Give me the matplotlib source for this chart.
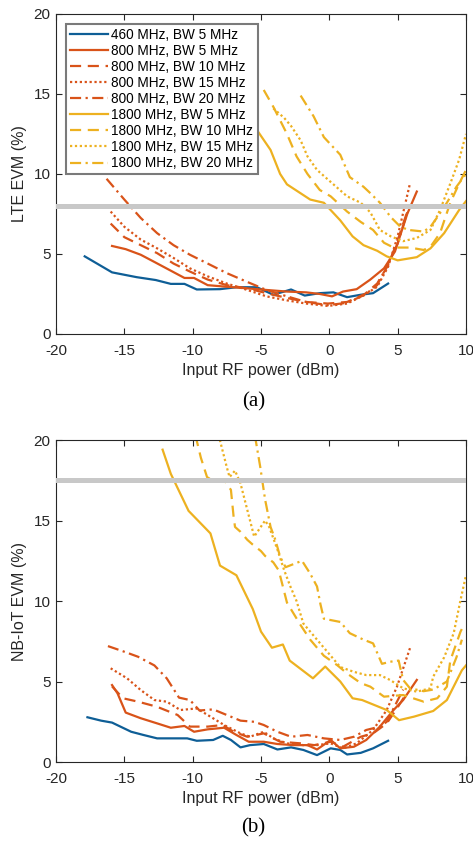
import numpy as np
import matplotlib.pyplot as plt

plt.rcParams['font.family'] = ['Liberation Sans', 'DejaVu Sans']
plt.rcParams['axes.unicode_minus'] = False

# ---- LTE EVM (a) ----
lte_460_bw5_x = [-17.9, -15.9, -14.1, -12.7, -11.6, -10.6, -9.7, -8.0, -6.8, -5.3, -4.1, -2.8, -1.8, -0.7, 0.3, 1.3, 2.3, 3.2, 4.3]
lte_460_bw5_y = [4.85, 3.85, 3.55, 3.37, 3.13, 3.13, 2.78, 2.8, 2.92, 2.92, 2.45, 2.78, 2.4, 2.55, 2.6, 2.3, 2.45, 2.55, 3.15]

lte_800_bw5_x = [-15.9, -14.9, -13.8, -12.8, -11.7, -10.6, -9.9, -8.9, -7.5, -6.0, -4.6, -3.1, -1.7, -0.7, 0.2, 1.0, 2.0, 3.0, 4.0, 4.8, 5.7, 6.4]
lte_800_bw5_y = [5.5, 5.3, 4.95, 4.5, 4.0, 3.5, 3.5, 3.05, 2.95, 2.85, 2.75, 2.65, 2.6, 2.5, 2.35, 2.65, 2.8, 3.4, 4.1, 5.15, 7.5, 8.9]

lte_800_bw10_x = [-16.0, -15.0, -13.8, -12.6, -11.4, -10.2, -8.9, -7.5, -6.0, -4.6, -3.1, -1.7, -0.1, 1.3, 2.6, 3.5, 4.3, 5.0, 5.8]
lte_800_bw10_y = [6.9, 6.05, 5.55, 5.05, 4.4, 3.9, 3.4, 3.05, 2.85, 2.55, 2.25, 2.0, 1.9, 2.0, 2.5, 3.15, 4.3, 5.85, 7.9]

lte_800_bw15_x = [-16.0, -15.0, -13.8, -12.6, -11.4, -10.2, -8.9, -7.5, -6.0, -4.6, -3.1, -1.7, -0.1, 1.3, 2.6, 3.5, 4.3, 5.0, 5.9]
lte_800_bw15_y = [7.65, 6.7, 5.9, 5.35, 4.75, 4.1, 3.6, 3.15, 2.75, 2.35, 2.1, 1.9, 1.75, 1.9, 2.45, 2.95, 4.2, 6.1, 9.4]

lte_800_bw20_x = [-16.3, -15.0, -13.8, -12.6, -11.4, -10.2, -8.9, -7.5, -6.0, -4.6, -3.1, -1.7, -0.1, 1.3, 2.6, 3.5, 4.3, 5.0, 5.7]
lte_800_bw20_y = [9.7, 8.4, 7.25, 6.3, 5.55, 4.95, 4.4, 3.8, 3.25, 2.75, 2.35, 2.0, 1.8, 1.95, 2.45, 3.05, 4.4, 5.65, 7.6]

lte_1800_bw5_x = [-6.3, -5.5, -4.3, -3.6, -3.1, -1.4, -0.4, 0.8, 1.7, 2.5, 3.5, 4.2, 5.0, 6.4, 7.4, 8.4, 9.5, 10.0]
lte_1800_bw5_y = [14.6, 13.0, 11.5, 10.0, 9.35, 8.4, 8.2, 7.1, 6.1, 5.55, 5.2, 4.85, 4.6, 4.8, 5.35, 6.3, 7.75, 8.3]

lte_1800_bw10_x = [-4.8, -4.1, -3.1, -2.4, -1.6, -0.7, 0.1, 1.3, 2.3, 3.2, 4.0, 4.7, 5.9, 6.9, 7.4, 8.1, 8.85, 9.5, 10.0]
lte_1800_bw10_y = [15.25, 14.2, 12.5, 11.1, 10.0, 9.0, 8.6, 7.65, 7.0, 6.5, 5.7, 5.4, 5.4, 5.25, 5.45, 6.3, 8.2, 9.4, 10.25]

lte_1800_bw15_x = [-4.1, -3.3, -2.8, -2.1, -1.6, -0.9, 0.1, 1.3, 2.3, 3.0, 3.7, 4.5, 5.4, 6.4, 7.4, 8.1, 8.85, 9.5, 10.0]
lte_1800_bw15_y = [14.1, 13.5, 13.0, 12.1, 11.1, 10.25, 9.5, 8.6, 8.2, 7.6, 6.5, 6.1, 5.8, 6.0, 6.5, 7.75, 9.4, 10.9, 12.5]

lte_1800_bw20_x = [-2.1, -1.15, -0.4, 0.8, 1.5, 2.5, 3.0, 3.7, 4.5, 5.2, 5.8, 6.9, 7.4, 7.9, 8.6, 9.3, 10.0]
lte_1800_bw20_y = [14.9, 13.6, 12.3, 11.2, 9.8, 9.2, 8.8, 8.2, 7.3, 6.7, 6.5, 6.4, 6.7, 7.3, 8.2, 9.2, 10.0]

lte_limit = 8.0

# ---- NB-IoT EVM (b) ----
nb_460_bw5_x = [-17.7, -16.7, -15.9, -14.5, -13.6, -12.6, -11.4, -10.4, -9.7, -8.5, -7.8, -7.2, -6.5, -5.8, -4.8, -3.8, -2.8, -1.9, -0.9, 0.1, 0.8, 1.3, 2.3, 3.2, 4.3]
nb_460_bw5_y = [2.78, 2.57, 2.45, 1.88, 1.68, 1.47, 1.47, 1.47, 1.32, 1.37, 1.63, 1.37, 0.91, 1.05, 1.12, 0.78, 0.91, 0.75, 0.43, 0.85, 0.75, 0.47, 0.57, 0.85, 1.32]

nb_800_bw5_x = [-15.9, -15.5, -14.9, -13.8, -12.6, -11.6, -10.6, -9.9, -8.9, -7.7, -6.8, -5.9, -4.8, -3.8, -2.6, -1.6, -0.9, 0.1, 0.8, 1.8, 2.7, 3.7, 4.7, 5.4, 6.4]
nb_800_bw5_y = [4.78, 4.27, 3.07, 2.72, 2.4, 2.13, 2.24, 1.88, 2.03, 2.13, 1.68, 1.26, 1.26, 1.12, 1.05, 1.05, 0.78, 1.37, 0.85, 0.95, 1.37, 2.2, 3.23, 3.85, 5.1]

nb_800_bw10_x = [-15.9, -15.1, -14.0, -12.6, -11.1, -10.2, -8.9, -7.8, -7.0, -6.0, -4.8, -3.6, -2.1, -1.1, 0.1, 1.0, 2.3, 3.2, 4.2, 5.0, 5.6]
nb_800_bw10_y = [4.7, 3.96, 3.75, 3.43, 2.92, 2.2, 2.2, 2.3, 1.88, 1.57, 1.78, 1.26, 1.16, 1.05, 1.26, 0.95, 1.57, 1.78, 2.4, 3.4, 4.2]

nb_800_bw15_x = [-16.0, -14.8, -13.8, -12.8, -11.9, -10.9, -9.7, -8.9, -7.7, -6.5, -5.8, -4.8, -4.1, -3.1, -1.9, -0.9, 0.1, 1.0, 2.0, 3.2, 4.2, 4.95, 5.9]
nb_800_bw15_y = [5.82, 5.2, 4.47, 3.85, 3.75, 3.23, 3.33, 2.92, 2.3, 1.78, 1.57, 1.88, 1.47, 1.16, 1.05, 1.05, 1.16, 0.85, 1.16, 1.99, 3.23, 4.68, 7.07]

nb_800_bw20_x = [-16.2, -15.0, -14.0, -12.8, -11.9, -11.0, -10.2, -9.5, -8.5, -7.5, -6.5, -5.5, -4.8, -3.8, -2.8, -1.6, -0.4, 0.8, 1.8, 2.7, 3.7, 4.2, 5.4]
nb_800_bw20_y = [7.2, 6.85, 6.54, 6.0, 5.2, 4.0, 3.85, 3.2, 3.27, 2.92, 2.57, 2.5, 2.3, 1.88, 1.57, 1.68, 1.47, 1.37, 1.57, 1.99, 2.2, 2.5, 4.5]

nb_1800_bw5_x = [-12.2, -11.6, -10.3, -8.7, -8.0, -6.8, -5.6, -5.0, -4.2, -3.4, -2.9, -1.2, -0.3, 0.8, 1.7, 2.4, 3.3, 4.2, 5.1, 6.2, 7.6, 8.6, 9.7, 10.0]
nb_1800_bw5_y = [19.4, 17.9, 15.6, 14.2, 12.2, 11.6, 9.5, 8.1, 7.1, 7.3, 6.3, 5.2, 5.93, 5.0, 3.96, 3.85, 3.54, 3.23, 2.6, 2.82, 3.17, 3.85, 5.7, 6.0]

nb_1800_bw10_x = [-9.8, -9.4, -8.95, -8.4, -7.6, -7.2, -7.0, -6.9, -6.5, -6.0, -5.6, -5.0, -4.7, -4.1, -3.7, -3.4, -3.1, -2.1, -1.4, -0.4, 0.6, 1.3, 2.3, 3.0, 4.0, 5.4, 6.9, 7.9, 8.6, 8.85, 9.6, 9.9]
nb_1800_bw10_y = [20.3, 18.9, 17.7, 17.4, 17.4, 16.9, 15.2, 14.6, 14.3, 13.8, 13.5, 13.1, 12.8, 12.4, 11.9, 10.9, 9.9, 8.5, 7.6, 6.6, 6.0, 5.5, 4.9, 4.68, 4.06, 4.16, 3.75, 3.96, 4.68, 6.3, 8.1, 8.6]

nb_1800_bw15_x = [-8.1, -7.5, -7.3, -6.9, -6.5, -6.0, -5.5, -4.7, -4.4, -3.8, -3.3, -2.85, -2.4, -1.9, -1.1, -0.1, 0.8, 1.8, 2.7, 3.7, 4.46, 5.4, 6.4, 7.4, 7.6, 8.4, 9.1, 9.6, 10.0]
nb_1800_bw15_y = [20.3, 18.3, 17.7, 18.1, 17.3, 15.65, 14.0, 15.0, 14.6, 13.2, 11.9, 10.9, 10.0, 8.6, 7.8, 6.8, 5.9, 5.6, 5.4, 5.4, 5.09, 4.58, 4.37, 4.58, 5.3, 6.5, 8.0, 10.06, 11.6]

nb_1800_bw20_x = [-5.45, -5.05, -4.7, -4.3, -3.95, -3.6, -3.2, -2.6, -2.0, -1.4, -0.9, -0.65, -0.4, 0.8, 1.5, 2.5, 3.2, 3.85, 4.46, 5.07, 5.4, 5.9, 6.9, 7.6, 8.6, 9.3, 9.7]
nb_1800_bw20_y = [20.3, 18.3, 16.3, 14.6, 13.8, 12.75, 12.1, 12.3, 12.5, 11.7, 10.9, 9.8, 8.9, 8.7, 8.0, 7.6, 7.37, 6.1, 6.23, 6.3, 5.1, 4.58, 4.4, 4.5, 5.0, 6.5, 7.6]

nb_limit = 17.5

labels = ['460 MHz, BW 5 MHz', '800 MHz, BW 5 MHz', '800 MHz, BW 10 MHz', '800 MHz, BW 15 MHz',
          '800 MHz, BW 20 MHz', '1800 MHz, BW 5 MHz', '1800 MHz, BW 10 MHz', '1800 MHz, BW 15 MHz',
          '1800 MHz, BW 20 MHz']

c_blue = '#0E5E96'
c_orange = '#D95319'
c_yellow = '#EDB120'
colors = [c_blue, c_orange, c_orange, c_orange, c_orange, c_yellow, c_yellow, c_yellow, c_yellow]
styles = ['-', '-', (0, (5, 3)), (0, (1, 1.2)), (0, (5, 2, 1, 2)),
          '-', (0, (5, 3)), (0, (1, 1.2)), (0, (5, 2, 1, 2))]

lte = [(lte_460_bw5_x, lte_460_bw5_y), (lte_800_bw5_x, lte_800_bw5_y), (lte_800_bw10_x, lte_800_bw10_y),
       (lte_800_bw15_x, lte_800_bw15_y), (lte_800_bw20_x, lte_800_bw20_y), (lte_1800_bw5_x, lte_1800_bw5_y),
       (lte_1800_bw10_x, lte_1800_bw10_y), (lte_1800_bw15_x, lte_1800_bw15_y), (lte_1800_bw20_x, lte_1800_bw20_y)]
nb = [(nb_460_bw5_x, nb_460_bw5_y), (nb_800_bw5_x, nb_800_bw5_y), (nb_800_bw10_x, nb_800_bw10_y),
      (nb_800_bw15_x, nb_800_bw15_y), (nb_800_bw20_x, nb_800_bw20_y), (nb_1800_bw5_x, nb_1800_bw5_y),
      (nb_1800_bw10_x, nb_1800_bw10_y), (nb_1800_bw15_x, nb_1800_bw15_y), (nb_1800_bw20_x, nb_1800_bw20_y)]

fig = plt.figure(figsize=(4.73, 8.41), dpi=100)
ax1 = fig.add_axes([0.1184, 0.6029, 0.8668, 0.3805])
ax2 = fig.add_axes([0.1184, 0.0939, 0.8668, 0.3829])


def draw(ax, series, limit, ylabel):
    for (x, y), c, ls, lab in zip(series, colors, styles, labels):
        ax.plot(x, y, color=c, linestyle=ls, linewidth=1.6, label=lab)
    ax.axhline(limit, color='#c8c8c8', linewidth=3.6, zorder=3)
    ax.set_xlim(-20, 10)
    ax.set_ylim(0, 20)
    ax.set_xticks(np.arange(-20, 11, 5))
    ax.set_yticks(np.arange(0, 21, 5))
    ax.tick_params(direction='in', top=True, right=True, length=4, width=0.8,
                   labelsize=11, colors='#262626')
    ax.tick_params(axis='x', pad=7)
    ax.tick_params(axis='y', pad=4)
    for s in ax.spines.values():
        s.set_color('#262626')
        s.set_linewidth(0.8)
    ax.set_xlabel('Input RF power (dBm)', fontsize=11.5, color='#262626', labelpad=4)
    ax.set_ylabel(ylabel, fontsize=11.5, color='#262626', labelpad=5)


draw(ax1, lte, lte_limit, 'LTE EVM (%)')
draw(ax2, nb, nb_limit, 'NB-IoT EVM (%)')

leg = ax1.legend(loc='upper left', bbox_to_anchor=(0.024, 0.969), borderaxespad=0,
                 fontsize=9.8, handlelength=2.8, handletextpad=0.25, labelspacing=0.15,
                 borderpad=0.3, fancybox=False, framealpha=1)
leg.get_frame().set_edgecolor('#7a7a7a')
leg.get_frame().set_linewidth(1.5)

fig.text(0.537, 0.522, '(a)', ha='center', va='center', fontsize=15, family='Liberation Serif')
fig.text(0.535, 0.0155, '(b)', ha='center', va='center', fontsize=15, family='Liberation Serif')

fig.savefig('out.png', dpi=100)
